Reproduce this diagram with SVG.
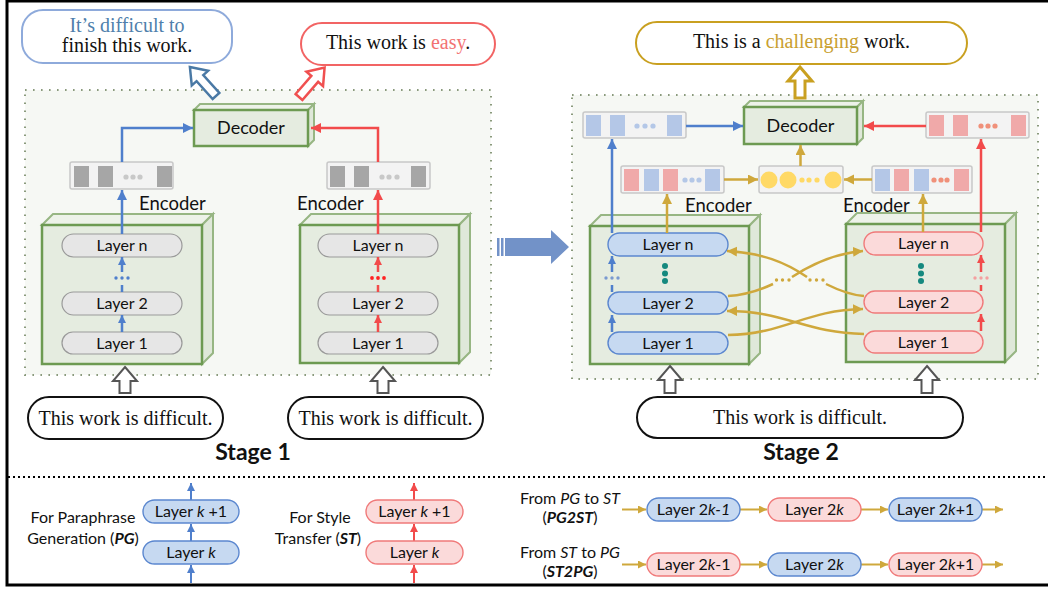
<svg xmlns="http://www.w3.org/2000/svg" width="1048" height="589" viewBox="0 0 1048 589">
<defs>
<marker id="mb" markerUnits="userSpaceOnUse" markerWidth="11" markerHeight="11" refX="10" refY="5" orient="auto"><path d="M0,0 L10,5 L0,10 z" fill="#4f7fcc"/></marker>
<marker id="mr" markerUnits="userSpaceOnUse" markerWidth="11" markerHeight="11" refX="10" refY="5" orient="auto"><path d="M0,0 L10,5 L0,10 z" fill="#f24b4b"/></marker>
<marker id="mg" markerUnits="userSpaceOnUse" markerWidth="11" markerHeight="11" refX="10" refY="5" orient="auto"><path d="M0,0 L10,5 L0,10 z" fill="#cfa83c"/></marker>
<marker id="mbs" markerUnits="userSpaceOnUse" markerWidth="9" markerHeight="9" refX="8" refY="4" orient="auto"><path d="M0,0 L8,4 L0,8 z" fill="#4f7fcc"/></marker>
<marker id="mrs" markerUnits="userSpaceOnUse" markerWidth="9" markerHeight="9" refX="8" refY="4" orient="auto"><path d="M0,0 L8,4 L0,8 z" fill="#f24b4b"/></marker>
<marker id="mgs" markerUnits="userSpaceOnUse" markerWidth="9" markerHeight="9" refX="8" refY="4" orient="auto"><path d="M0,0 L8,4 L0,8 z" fill="#cfa83c"/></marker>
</defs>
<style>
.sans{font-family:Lato,"Liberation Sans",sans-serif;fill:#111}
.serif{font-family:"Liberation Serif","Times New Roman",serif;fill:#111}
.region{fill:#f6f8f4;stroke:#8a9a7c;stroke-width:2;stroke-dasharray:1.6 6.4}
.front{fill:#e5ece0;stroke:#6d9a52;stroke-width:2.5}
.top{fill:#edf2e9;stroke:#97b683;stroke-width:2}
.side{fill:#dfe8d9;stroke:#97b683;stroke-width:2}
.pg{fill:#e6e6e6;stroke:#9a9a9a;stroke-width:1.2}
.pb{fill:#c6d9f1;stroke:#5b87cf;stroke-width:1.4}
.pr{fill:#fbdada;stroke:#f07a7a;stroke-width:1.4}
.strip{fill:#f3f3f3;stroke:#c8c8c8;stroke-width:1.5}
.bg{fill:#a6a6a6}
.bb{fill:#b4c7e7}
.br{fill:#f0a9a9}
.lb{stroke:#4f7fcc;stroke-width:2.5;fill:none}
.lr{stroke:#f24b4b;stroke-width:2.5;fill:none}
.lg{stroke:#cfa83c;stroke-width:2.5;fill:none}
.lbs{stroke:#4f7fcc;stroke-width:2;fill:none}
.lrs{stroke:#f24b4b;stroke-width:2;fill:none}
.lgs{stroke:#cfa83c;stroke-width:2;fill:none}
.lt{font-size:16px}
.bubble{fill:#fff;stroke-width:2}
.hollow{fill:#fff;stroke:#555;stroke-width:2}
</style>
<rect x="0" y="0" width="1048" height="589" fill="#fff"/>
<rect x="7" y="1" width="1100" height="584" fill="none" stroke="#000" stroke-width="3"/>
<line x1="8" y1="477" x2="1048" y2="477" stroke="#000" stroke-width="2" stroke-dasharray="2 3"/>

<!-- regions -->
<rect class="region" x="25" y="90" width="466" height="285"/>
<rect class="region" x="572" y="95" width="466" height="284"/>

<!-- big arrow -->
<g id="stage-arrow" fill="#7292c8">
<rect x="497" y="238" width="2.5" height="18"/>
<rect x="501" y="238" width="2.5" height="18"/>
<polygon points="505,238 551,238 551,230 569,247 551,264 551,256 505,256"/>
</g>

<!-- Stage 1 outputs -->
<g id="out-pg1">
<rect class="bubble" x="22" y="10" width="210" height="53" rx="21" stroke="#8eaadb"/>
<text class="serif" x="127" y="32" font-size="20" text-anchor="middle" style="fill:#4f7fac">It’s difficult to</text>
<text class="serif" x="127" y="52" font-size="20" text-anchor="middle">finish this work.</text>
</g>
<g id="out-st1">
<rect class="bubble" x="301" y="23" width="194" height="42" rx="21" stroke="#f26464"/>
<text class="serif" x="398" y="49" font-size="20" text-anchor="middle">This work is <tspan style="fill:#f27272">easy</tspan>.</text>
</g>
<polygon transform="translate(216,96) rotate(-42)" points="0,-39 11,-24 4.5,-24 4.5,0 -4.5,0 -4.5,-24 -11,-24" fill="#fff" stroke="#4a79a5" stroke-width="2.5"/>
<polygon transform="translate(299,97) rotate(41)" points="0,-39 11,-24 4.5,-24 4.5,0 -4.5,0 -4.5,-24 -11,-24" fill="#fff" stroke="#f05050" stroke-width="2.5"/>

<!-- Stage 1 decoder -->
<g id="dec1">
<polygon class="top" points="194,110 200,104 314,104 308,110"/>
<polygon class="side" points="308,110 314,104 314,140 308,146"/>
<rect class="front" x="194" y="110" width="114" height="36"/>
<text class="sans" x="251" y="134" font-size="18" text-anchor="middle">Decoder</text>
</g>

<!-- Stage 1 strips -->
<g id="strip1a">
<rect class="strip" x="70" y="162" width="103" height="27" rx="2"/>
<rect class="bg" x="74" y="166" width="15" height="21"/>
<rect class="bg" x="98" y="166" width="15" height="21"/>
<rect class="bg" x="157" y="166" width="15" height="21"/>
<circle cx="126" cy="177" r="2.6" fill="#c8c8c8"/><circle cx="133" cy="177" r="2.6" fill="#c8c8c8"/><circle cx="140" cy="177" r="2.6" fill="#c8c8c8"/>
</g>
<g id="strip1b">
<rect class="strip" x="327" y="162" width="103" height="27" rx="2"/>
<rect class="bg" x="330" y="166" width="15" height="21"/>
<rect class="bg" x="354" y="166" width="15" height="21"/>
<rect class="bg" x="411" y="166" width="15" height="21"/>
<circle cx="382" cy="177" r="2.6" fill="#c8c8c8"/><circle cx="389" cy="177" r="2.6" fill="#c8c8c8"/><circle cx="397" cy="177" r="2.6" fill="#c8c8c8"/>
</g>

<!-- Stage 1 encoders -->
<g id="enc1a">
<polygon class="top" points="42,225 53,214 213,214 202,225"/>
<polygon class="side" points="202,225 213,214 213,353 202,364"/>
<rect class="front" x="42" y="225" width="160" height="139"/>
<text class="sans" x="139" y="210" font-size="18.5">Encoder</text>
<rect class="pg" x="62" y="234" width="120" height="23" rx="11.5"/>
<text class="sans lt" x="122" y="251" text-anchor="middle">Layer n</text>
<rect class="pg" x="62" y="292" width="120" height="23" rx="11.5"/>
<text class="sans lt" x="122" y="309" text-anchor="middle">Layer 2</text>
<rect class="pg" x="62" y="332" width="120" height="22" rx="11"/>
<text class="sans lt" x="122" y="349" text-anchor="middle">Layer 1</text>
</g>
<g id="enc1b">
<polygon class="top" points="300,225 311,214 470,214 459,225"/>
<polygon class="side" points="459,225 470,214 470,352 459,363"/>
<rect class="front" x="300" y="225" width="159" height="138"/>
<text class="sans" x="297" y="210" font-size="18.5">Encoder</text>
<rect class="pg" x="318" y="234" width="120" height="23" rx="11.5"/>
<text class="sans lt" x="378" y="251" text-anchor="middle">Layer n</text>
<rect class="pg" x="318" y="292" width="120" height="23" rx="11.5"/>
<text class="sans lt" x="378" y="309" text-anchor="middle">Layer 2</text>
<rect class="pg" x="318" y="332" width="120" height="22" rx="11"/>
<text class="sans lt" x="378" y="349" text-anchor="middle">Layer 1</text>
</g>

<!-- Stage 1 inputs -->
<g id="in1a">
<polygon class="hollow" points="125,367 137,381 130.5,381 130.5,393 119.5,393 119.5,381 113,381"/>
<rect class="bubble" x="28" y="397" width="195" height="42" rx="21" stroke="#111" stroke-width="1.8"/>
<text class="serif" x="125.5" y="425" font-size="20" text-anchor="middle">This work is difficult.</text>
</g>
<g id="in1b">
<polygon class="hollow" points="383,367 395,381 388.5,381 388.5,393 377.5,393 377.5,381 371,381"/>
<rect class="bubble" x="288" y="397" width="195" height="42" rx="21" stroke="#111" stroke-width="1.8"/>
<text class="serif" x="385.5" y="425" font-size="20" text-anchor="middle">This work is difficult.</text>
</g>
<text class="sans" x="253" y="460" font-size="23" font-weight="bold" text-anchor="middle">Stage 1</text>

<!-- Stage 2 output -->
<g id="out2">
<rect class="bubble" x="636" y="22" width="331" height="42" rx="21" stroke="#c9a020"/>
<text class="serif" x="801.5" y="48" font-size="20" text-anchor="middle">This is a <tspan style="fill:#c9a030">challenging</tspan> work.</text>
<polygon points="800,67 812,81 805,81 805,98 795,98 795,81 788,81" fill="#fff" stroke="#c9a020" stroke-width="3"/>
</g>

<!-- Stage 2 decoder -->
<g id="dec2">
<polygon class="top" points="744,107 750,101 863,101 857,107"/>
<polygon class="side" points="857,107 863,101 863,138 857,144"/>
<rect class="front" x="744" y="107" width="113" height="37"/>
<text class="sans" x="800.5" y="132" font-size="18" text-anchor="middle">Decoder</text>
</g>

<!-- Stage 2 strips -->
<g id="strip2-pg">
<rect class="strip" x="583" y="112" width="103" height="26" rx="2"/>
<rect class="bb" x="586" y="115" width="15" height="21"/>
<rect class="bb" x="610" y="115" width="15" height="21"/>
<rect class="bb" x="667" y="115" width="15" height="21"/>
<circle cx="637" cy="126" r="2.6" fill="#b4c7e7"/><circle cx="645" cy="126" r="2.6" fill="#b4c7e7"/><circle cx="653" cy="126" r="2.6" fill="#b4c7e7"/>
</g>
<g id="strip2-st">
<rect class="strip" x="926" y="112" width="103" height="26" rx="2"/>
<rect class="br" x="929" y="115" width="15" height="21"/>
<rect class="br" x="953" y="115" width="15" height="21"/>
<rect class="br" x="1011" y="115" width="15" height="21"/>
<circle cx="981" cy="126" r="2.6" fill="#f0907a"/><circle cx="988" cy="126" r="2.6" fill="#f0907a"/><circle cx="995" cy="126" r="2.6" fill="#f0907a"/>
</g>
<g id="strip2-mixa">
<rect class="strip" x="621" y="166" width="103" height="27" rx="2"/>
<rect class="br" x="624" y="169" width="15" height="22"/>
<rect class="bb" x="644" y="169" width="15" height="22"/>
<rect class="br" x="663" y="169" width="15" height="22"/>
<rect class="bb" x="705" y="169" width="15" height="22"/>
<circle cx="685" cy="180" r="2.6" fill="#b4c7e7"/><circle cx="692" cy="180" r="2.6" fill="#b4c7e7"/><circle cx="699" cy="180" r="2.6" fill="#b4c7e7"/>
</g>
<g id="strip2-fuse">
<rect class="strip" x="759" y="166" width="84" height="27" rx="2"/>
<circle cx="769" cy="180" r="8.5" fill="#ffd966"/>
<circle cx="788" cy="180" r="8.5" fill="#ffd966"/>
<circle cx="833" cy="180" r="8.5" fill="#ffd966"/>
<circle cx="802" cy="180" r="2.6" fill="#ffd966"/><circle cx="809" cy="180" r="2.6" fill="#ffd966"/><circle cx="817" cy="180" r="2.6" fill="#ffd966"/>
</g>
<g id="strip2-mixb">
<rect class="strip" x="872" y="166" width="100" height="27" rx="2"/>
<rect class="bb" x="875" y="169" width="15" height="22"/>
<rect class="br" x="894" y="169" width="15" height="22"/>
<rect class="bb" x="914" y="169" width="15" height="22"/>
<rect class="br" x="954" y="169" width="15" height="22"/>
<circle cx="934" cy="180" r="2.6" fill="#f0907a"/><circle cx="941" cy="180" r="2.6" fill="#f0907a"/><circle cx="947" cy="180" r="2.6" fill="#f0907a"/>
</g>

<!-- Stage 2 encoders -->
<g id="enc2a">
<polygon class="top" points="590,226 601,215 760,215 749,226"/>
<polygon class="side" points="749,226 760,215 760,353 749,364"/>
<rect class="front" x="590" y="226" width="159" height="138"/>
<text class="sans" x="685" y="212" font-size="18.5">Encoder</text>
<rect class="pb" x="608" y="233" width="120" height="23" rx="11.5"/>
<text class="sans lt" x="668" y="250" text-anchor="middle">Layer n</text>
<rect class="pb" x="608" y="292" width="120" height="22" rx="11"/>
<text class="sans lt" x="668" y="309" text-anchor="middle">Layer 2</text>
<rect class="pb" x="608" y="332" width="120" height="22" rx="11"/>
<text class="sans lt" x="668" y="349" text-anchor="middle">Layer 1</text>
<circle cx="665" cy="266" r="3" fill="#15897f"/><circle cx="665" cy="273.5" r="3" fill="#15897f"/><circle cx="665" cy="281" r="3" fill="#15897f"/>
</g>
<g id="enc2b">
<polygon class="top" points="846,224 857,213 1016,213 1005,224"/>
<polygon class="side" points="1005,224 1016,213 1016,351 1005,362"/>
<rect class="front" x="846" y="224" width="159" height="138"/>
<text class="sans" x="843" y="212" font-size="18.5">Encoder</text>
<rect class="pr" x="864" y="232" width="119" height="23" rx="11.5"/>
<text class="sans lt" x="923.5" y="249" text-anchor="middle">Layer n</text>
<rect class="pr" x="864" y="291" width="119" height="22" rx="11"/>
<text class="sans lt" x="923.5" y="308" text-anchor="middle">Layer 2</text>
<rect class="pr" x="864" y="331" width="119" height="22" rx="11"/>
<text class="sans lt" x="923.5" y="348" text-anchor="middle">Layer 1</text>
<circle cx="921" cy="266" r="3" fill="#15897f"/><circle cx="921" cy="273.5" r="3" fill="#15897f"/><circle cx="921" cy="281" r="3" fill="#15897f"/>
</g>

<!-- Stage 2 input -->
<g id="in2">
<polygon class="hollow" points="670,366 682,380 675.5,380 675.5,393 664.5,393 664.5,380 658,380"/>
<polygon class="hollow" points="927,366 939,380 932.5,380 932.5,393 921.5,393 921.5,380 915,380"/>
<rect class="bubble" x="637" y="397" width="326" height="41" rx="20.5" stroke="#111" stroke-width="1.8"/>
<text class="serif" x="800" y="424" font-size="20" text-anchor="middle">This work is difficult.</text>
</g>
<text class="sans" x="801" y="460" font-size="23" font-weight="bold" text-anchor="middle">Stage 2</text>

<!-- connectors -->
<g id="connectors">
<!-- stage 1 -->
<path class="lb" d="M122,162 V128 H193" marker-end="url(#mb)"/>
<path class="lr" d="M378,162 V128 H311" marker-end="url(#mr)"/>
<path class="lb" d="M122,234 V190" marker-end="url(#mb)"/>
<path class="lr" d="M378,234 V190" marker-end="url(#mr)"/>
<path class="lb" d="M122,332 V315" marker-end="url(#mbs)"/>
<path class="lr" d="M378,332 V315" marker-end="url(#mrs)"/>
<path class="lb" d="M122,292 V285 M122,272 V257" marker-end="url(#mbs)"/>
<path class="lr" d="M378,292 V285 M378,272 V257" marker-end="url(#mrs)"/>
<circle cx="116" cy="278" r="1.7" fill="#4f7fcc"/><circle cx="122" cy="278" r="1.7" fill="#4f7fcc"/><circle cx="128" cy="278" r="1.7" fill="#4f7fcc"/>
<circle cx="372" cy="278" r="1.9" fill="#f22"/><circle cx="378" cy="278" r="1.9" fill="#f22"/><circle cx="384" cy="278" r="1.9" fill="#f22"/>
<!-- stage 2 -->
<path class="lb" d="M686,126 H743" marker-end="url(#mb)"/>
<path class="lr" d="M926,126 H864" marker-end="url(#mr)"/>
<path class="lb" d="M612,233 V139" marker-end="url(#mb)"/>
<path class="lr" d="M981,232 V139" marker-end="url(#mr)"/>
<path class="lg" d="M724,179.5 H758" marker-end="url(#mg)"/>
<path class="lg" d="M872,179.5 H844" marker-end="url(#mg)"/>
<path class="lg" d="M800.5,166 V145" marker-end="url(#mg)"/>
<path class="lg" d="M667,233 V194" marker-end="url(#mg)"/>
<path class="lg" d="M923,232 V194" marker-end="url(#mg)"/>
<path class="lb" d="M612,332 V315" marker-end="url(#mbs)"/>
<path class="lr" d="M981,331 V314" marker-end="url(#mrs)"/>
<path class="lb" d="M612,292 V285 M612,272 V256" marker-end="url(#mbs)"/>
<path class="lr" d="M981,291 V285 M981,272 V255" marker-end="url(#mrs)"/>
<circle cx="606" cy="278" r="1.7" fill="#7a9ad0"/><circle cx="612" cy="278" r="1.7" fill="#7a9ad0"/><circle cx="618" cy="278" r="1.7" fill="#7a9ad0"/>
<circle cx="975" cy="278" r="1.7" fill="#f4a0a0"/><circle cx="981" cy="278" r="1.7" fill="#f4a0a0"/><circle cx="987" cy="278" r="1.7" fill="#f4a0a0"/>
<!-- crossings -->
<path class="lg" d="M728,296 C746,295 760,290 773,284"/>
<path class="lg" d="M792,277 C815,262 838,253 863,251" marker-end="url(#mg)"/>
<circle cx="776.5" cy="280" r="1.7" fill="#cfa83c"/><circle cx="782.5" cy="280" r="1.7" fill="#cfa83c"/><circle cx="789" cy="280" r="1.7" fill="#cfa83c"/>
<path class="lg" d="M864,296 C850,295 838,290 826,284"/>
<path class="lg" d="M807,277 C785,262 762,253 727,251" marker-end="url(#mg)"/>
<circle cx="810" cy="280" r="1.7" fill="#cfa83c"/><circle cx="816.5" cy="280" r="1.7" fill="#cfa83c"/><circle cx="823" cy="280" r="1.7" fill="#cfa83c"/>
<path class="lg" d="M728,335 C785,334 805,310 863,309" marker-end="url(#mg)"/>
<path class="lg" d="M864,334 C805,333 785,311 727,311" marker-end="url(#mg)"/>
<!-- legend -->
<path class="lbs" d="M191,583 V565" marker-end="url(#mbs)"/>
<path class="lbs" d="M191,541 V524" marker-end="url(#mbs)"/>
<path class="lbs" d="M191,500 V483" marker-end="url(#mbs)"/>
<path class="lrs" d="M414,583 V565" marker-end="url(#mrs)"/>
<path class="lrs" d="M414,541 V524" marker-end="url(#mrs)"/>
<path class="lrs" d="M414,500 V483" marker-end="url(#mrs)"/>
<path class="lgs" d="M622,509.5 H646" marker-end="url(#mgs)"/>
<path class="lgs" d="M740,509.5 H767" marker-end="url(#mgs)"/>
<path class="lgs" d="M861,509.5 H888" marker-end="url(#mgs)"/>
<path class="lgs" d="M982,509.5 H1003" marker-end="url(#mgs)"/>
<path class="lgs" d="M622,564.5 H646" marker-end="url(#mgs)"/>
<path class="lgs" d="M740,564.5 H767" marker-end="url(#mgs)"/>
<path class="lgs" d="M861,564.5 H888" marker-end="url(#mgs)"/>
<path class="lgs" d="M982,564.5 H1003" marker-end="url(#mgs)"/>
</g>

<!-- legend nodes -->
<g id="legend-pg">
<text class="sans" x="83" y="523" font-size="16" text-anchor="middle">For Paraphrase</text>
<text class="sans" x="83" y="544" font-size="16" text-anchor="middle">Generation (<tspan font-weight="bold" font-style="italic">PG</tspan>)</text>
<rect class="pb" x="143" y="500" width="96" height="23" rx="11.5"/>
<text class="sans lt" x="191" y="517" text-anchor="middle">Layer <tspan font-style="italic">k</tspan> +1</text>
<rect class="pb" x="143" y="541" width="96" height="23" rx="11.5"/>
<text class="sans lt" x="191" y="558" text-anchor="middle">Layer <tspan font-style="italic">k</tspan></text>
</g>
<g id="legend-st">
<text class="sans" x="320" y="523" font-size="16" text-anchor="middle">For Style</text>
<text class="sans" x="318" y="544" font-size="16" text-anchor="middle">Transfer (<tspan font-weight="bold" font-style="italic">ST</tspan>)</text>
<rect class="pr" x="366" y="500" width="97" height="23" rx="11.5"/>
<text class="sans lt" x="414.5" y="517" text-anchor="middle">Layer <tspan font-style="italic">k</tspan> +1</text>
<rect class="pr" x="366" y="541" width="97" height="23" rx="11.5"/>
<text class="sans lt" x="414.5" y="558" text-anchor="middle">Layer <tspan font-style="italic">k</tspan></text>
</g>
<g id="legend-pg2st">
<text class="sans" x="570" y="504" font-size="16" text-anchor="middle">From <tspan font-style="italic">PG</tspan> to <tspan font-style="italic">ST</tspan></text>
<text class="sans" x="570" y="523" font-size="16" text-anchor="middle">(<tspan font-weight="bold" font-style="italic">PG2ST</tspan>)</text>
<rect class="pb" x="647" y="498" width="93" height="23" rx="11.5"/>
<text class="sans lt" x="693.5" y="515" text-anchor="middle">Layer 2<tspan font-style="italic">k-1</tspan></text>
<rect class="pr" x="768" y="498" width="93" height="23" rx="11.5"/>
<text class="sans lt" x="814.5" y="515" text-anchor="middle">Layer 2<tspan font-style="italic">k</tspan></text>
<rect class="pb" x="889" y="498" width="93" height="23" rx="11.5"/>
<text class="sans lt" x="935.5" y="515" text-anchor="middle">Layer 2<tspan font-style="italic">k</tspan>+1</text>
</g>
<g id="legend-st2pg">
<text class="sans" x="570" y="558" font-size="16" text-anchor="middle">From <tspan font-style="italic">ST</tspan> to <tspan font-style="italic">PG</tspan></text>
<text class="sans" x="570" y="577" font-size="16" text-anchor="middle">(<tspan font-weight="bold" font-style="italic">ST2PG</tspan>)</text>
<rect class="pr" x="647" y="553" width="93" height="23" rx="11.5"/>
<text class="sans lt" x="693.5" y="570" text-anchor="middle">Layer 2<tspan font-style="italic">k</tspan>-1</text>
<rect class="pb" x="768" y="553" width="93" height="23" rx="11.5"/>
<text class="sans lt" x="814.5" y="570" text-anchor="middle">Layer 2<tspan font-style="italic">k</tspan></text>
<rect class="pr" x="889" y="553" width="93" height="23" rx="11.5"/>
<text class="sans lt" x="935.5" y="570" text-anchor="middle">Layer 2<tspan font-style="italic">k</tspan>+1</text>
</g>
</svg>
